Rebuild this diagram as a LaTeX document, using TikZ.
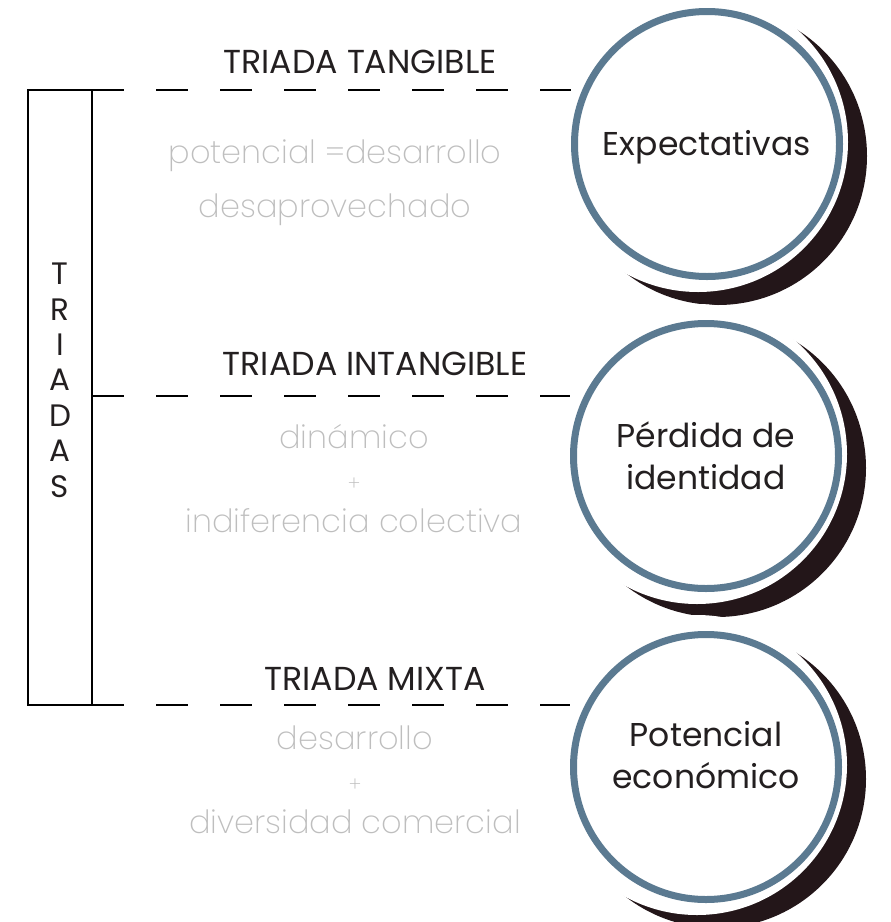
\documentclass[tikz,border=0pt]{standalone}
\usepackage{fontspec}
\setmainfont{Poppins}
\newfontfamily\lightfont{Poppins ExtraLight}
\usetikzlibrary{calc}
\definecolor{ringblue}{RGB}{91,122,145}
\definecolor{shadedark}{RGB}{35,22,25}
\definecolor{softgray}{RGB}{190,190,190}
\definecolor{inkdark}{RGB}{35,31,32}

\tikzset{
  ring/.style={circle, draw=ringblue, line width=3.5pt, fill=white, minimum size=132.5pt,
    inner sep=0pt, align=center, text=inkdark, font=\fontsize{16.5}{21}\selectfont},
  ringtext/.style={align=center, text=inkdark, font=\fontsize{16.5}{21}\selectfont},
  title/.style={anchor=base, text=inkdark, font=\fontsize{16.6}{21}\selectfont},
  note/.style={anchor=base, align=center, text=softgray, font=\lightfont\fontsize{16}{21}\selectfont},
  link/.style={line width=1.3pt, dash pattern=on 16pt off 16pt},
}

\begin{document}
\begin{tikzpicture}[x=0.5pt, y=-0.5pt]
    \useasboundingbox (0,0) rectangle (890,922);

    % centres of the three circles
    \coordinate (cA) at (707,144);
    \coordinate (cB) at (706,456);
    \coordinate (cC) at (706,767);

    % Shadows
    \fill[shadedark] ($(cA)+(11,12)$) circle (149);
    \fill[white] ($(cA)+(-9,-2)$) circle (150);
    \fill[shadedark] ($(cB)+(11,12)$) circle (149);
    \fill[white] ($(cB)+(-9,-2)$) circle (150);
    \fill[shadedark] ($(cC)+(11,12)$) circle (149);
    \fill[white] ($(cC)+(-9,-2)$) circle (150);

    % Circles
    \node[ring] (exp) at (cA) {};
    \node[ringtext] (expT) at ($(cA)+(0,3)$) {Expectativas};
    \node[ring] (per) at (cB) {P\'erdida de\\identidad};
    \node[ring] (pot) at (cC) {};
    \node[ringtext] (potT) at ($(cC)+(0,-12)$) {Potencial\\econ\'omico};

    % Bracket
    \node[draw, line width=1.3pt, minimum width=32pt, minimum height=307.5pt,
          inner sep=0pt, outer sep=0pt] (brk) at (60,397.5) {};
    \node[anchor=base, align=center, text=inkdark,
          font=\fontsize{15.5}{17.7}\selectfont] (vert) at (60,497) {T\\R\\I\\A\\D\\A\\S};

    % Dashed links
    \coordinate (jB) at (92,396);
    \draw[link] (brk.north east) -- (brk.north east -| exp.west);
    \draw[link] (jB) -- (jB -| per.west);
    \draw[link] (brk.south east) -- (brk.south east -| pot.west);

    % Titles
    \node[title] (tA) at (360,73) {TRIADA TANGIBLE};
    \node[title] (tB) at (375,375) {TRIADA INTANGIBLE};
    \node[title] (tC) at (375,690) {TRIADA MIXTA};

    % Notes
    \node[note, font=\lightfont\fontsize{16}{27}\selectfont] (nA) at (335,217)
        {potencial =desarrollo\\desaprovechado};
    \node[note] (nB) at (354,532) {din\'amico\\{\fontsize{10}{21}\selectfont +}\\indiferencia colectiva};
    \node[note] (nC) at (355,833) {desarrollo\\{\fontsize{10}{21}\selectfont +}\\diversidad comercial};
\end{tikzpicture}
\end{document}
